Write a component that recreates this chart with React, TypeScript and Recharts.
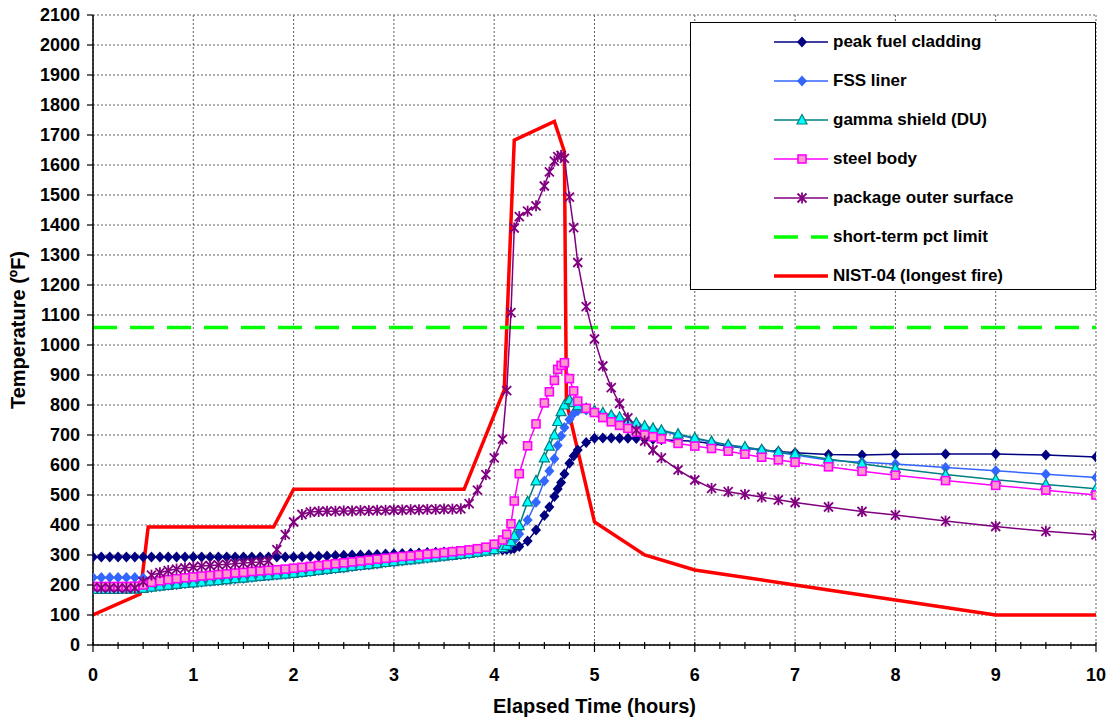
import React from 'react';
import { LineChart, Line, XAxis, YAxis, CartesianGrid, Legend, Label } from 'recharts';

const FONT = '"Liberation Sans", Arial, Helvetica, sans-serif';

// elapsed time (hours) shared by the five computed temperature series
const hours = [
  0, 0.083, 0.167, 0.25, 0.333, 0.417, 0.5, 0.583, 0.667, 0.75, 0.833, 0.917,
  1, 1.083, 1.167, 1.25, 1.333, 1.417, 1.5, 1.583, 1.667, 1.75, 1.833, 1.917,
  2, 2.083, 2.167, 2.25, 2.333, 2.417, 2.5, 2.583, 2.667, 2.75, 2.833, 2.917,
  3, 3.083, 3.167, 3.25, 3.333, 3.417, 3.5, 3.583, 3.667, 3.75, 3.833, 3.917,
  4, 4.083, 4.125, 4.167, 4.2, 4.25, 4.333, 4.417, 4.5, 4.55, 4.6, 4.633,
  4.667, 4.7, 4.75, 4.792, 4.833, 4.917, 5, 5.083, 5.167, 5.25, 5.333, 5.417,
  5.5, 5.583, 5.667, 5.833, 6, 6.167, 6.333, 6.5, 6.667, 6.833, 7, 7.333,
  7.667, 8, 8.5, 9, 9.5, 10,
];

const claddingTemp = [
  293, 293, 293, 293, 293, 293, 293, 293, 293, 293, 293, 293,
  293, 293, 293, 293, 293, 293, 293, 293, 293, 293, 293, 293,
  293, 294, 295, 296, 297, 298, 299, 300, 300, 301, 302, 303,
  304, 305, 306, 307, 308, 309, 310, 311, 312, 313, 314, 315,
  316, 317, 318, 320, 322, 328, 347, 383, 432, 460, 495, 520,
  542, 570, 606, 630, 650, 675, 689, 690, 690, 689, 689, 688,
  687, 686, 684, 682, 679, 671, 663, 656, 650, 645, 641, 635,
  633, 636, 637, 637, 633, 627,
];

const linerTemp = [
  225, 225, 225, 225, 225, 225, 223, 192, 195, 198, 201, 204,
  206, 209, 212, 214, 217, 220, 222, 225, 228, 230, 233, 235,
  238, 241, 244, 248, 251, 254, 257, 261, 264, 267, 270, 274,
  277, 280, 283, 286, 289, 292, 295, 298, 301, 304, 308, 312,
  317, 323, 328, 338, 350, 370, 417, 476, 547, 580, 621, 665,
  697, 725, 752, 772, 781, 783, 778, 770, 763, 755, 745, 737,
  727, 719, 713, 700, 688, 676, 665, 657, 649, 642, 633, 616,
  609, 603, 592, 581, 569, 558,
];

const gammaTemp = [
  185, 185, 185, 185, 186, 186, 189, 193, 196, 199, 202, 205,
  207, 210, 213, 215, 218, 221, 223, 226, 229, 231, 234, 236,
  239, 242, 245, 249, 252, 255, 258, 262, 265, 268, 271, 275,
  278, 281, 284, 287, 290, 293, 296, 299, 302, 305, 309, 313,
  318, 325, 332, 345, 365, 398, 477, 547, 624, 663, 700, 745,
  778, 800, 818, 808, 798, 788, 781, 774, 766, 759, 748, 740,
  730, 722, 716, 703, 690, 678, 667, 660, 651, 644, 637, 620,
  604, 588, 568, 551, 535, 521,
];

const steelTemp = [
  195, 195, 195, 195, 195, 196, 200, 209, 214, 218, 221, 224,
  227, 230, 232, 235, 237, 240, 242, 245, 247, 249, 251, 253,
  256, 259, 262, 265, 268, 271, 274, 277, 280, 283, 286, 289,
  292, 295, 297, 300, 303, 305, 308, 311, 314, 317, 321, 326,
  336, 350, 369, 404, 480, 571, 664, 737, 807, 844, 882, 919,
  932, 941, 888, 847, 813, 789, 775, 758, 744, 732, 722, 710,
  700, 694, 687, 672, 663, 655, 646, 636, 626, 617, 609, 594,
  579, 566, 548, 532, 516, 500,
];

const surfaceTemp = [
  192, 190, 190, 189, 189, 190, 211, 233, 241, 248, 253, 257,
  260, 263, 265, 267, 269, 271, 273, 275, 277, 280, 318, 368,
  410, 435, 443, 445, 446, 446, 447, 447, 448, 448, 449, 449,
  450, 450, 451, 451, 452, 452, 453, 453, 454, 471, 516, 568,
  624, 686, 848, 1108, 1390, 1428, 1446, 1464, 1530, 1577, 1613, 1628,
  1632, 1622, 1493, 1391, 1275, 1128, 1020, 930, 858, 805, 757, 716,
  680, 650, 624, 584, 550, 522, 511, 502, 493, 484, 475, 460,
  445, 433, 413, 395, 379, 367,
];

// NIST-04 fire curve
const fireHours = [0, 0.47, 0.55, 1.8, 2.0, 3.7, 4.1, 4.2, 4.6, 4.7, 4.72, 5, 5.5, 6, 7, 8, 9, 10];
const fireTemp = [100, 170, 393, 393, 519, 519, 850, 1683, 1745, 1644, 810, 410, 300, 250, 200, 150, 100, 100];

// short-term peak cladding temperature limit
const limitHours = [0, 10];
const limitTemp = [1058, 1058];

const xTicks = [
  0, 0.25, 0.5, 0.75, 1, 1.25, 1.5, 1.75, 2, 2.25, 2.5, 2.75, 3, 3.25, 3.5, 3.75, 4, 4.25, 4.5, 4.75,
  5, 5.25, 5.5, 5.75, 6, 6.25, 6.5, 6.75, 7, 7.25, 7.5, 7.75, 8, 8.25, 8.5, 8.75, 9, 9.25, 9.5, 9.75, 10,
];
const xGrid = [0, 1, 2, 3, 4, 5, 6, 7, 8, 9, 10];
const yTicks = [
  0, 100, 200, 300, 400, 500, 600, 700, 800, 900, 1000, 1100, 1200, 1300, 1400, 1500, 1600, 1700, 1800, 1900, 2000, 2100,
];

const pts = (ts: number[], vs: number[]) => ts.map((t, i) => ({ t, v: vs[i] }));

type Kind = 'navy' | 'blue' | 'tri' | 'sq' | 'star';

const Marker = ({ kind, cx, cy }: { kind: Kind; cx: number; cy: number }) => {
  if (cx == null || cy == null) return null;
  if (kind === 'navy' || kind === 'blue') {
    return <path d={`M${cx},${cy - 5.5}L${cx + 5},${cy}L${cx},${cy + 5.5}L${cx - 5},${cy}Z`} fill={kind === 'navy' ? '#000080' : '#3366FF'} />;
  }
  if (kind === 'tri') {
    return <path d={`M${cx},${cy - 5.5}L${cx + 5},${cy + 4}L${cx - 5},${cy + 4}Z`} fill="#00FFFF" stroke="#008080" strokeWidth={1.2} />;
  }
  if (kind === 'sq') {
    return <rect x={cx - 4} y={cy - 4} width={8} height={8} fill="#FF99CC" stroke="#FF00FF" strokeWidth={1.6} />;
  }
  return (
    <g stroke="#800080" strokeWidth={1.8}>
      <line x1={cx - 4.5} y1={cy - 4.5} x2={cx + 4.5} y2={cy + 4.5} />
      <line x1={cx - 4.5} y1={cy + 4.5} x2={cx + 4.5} y2={cy - 4.5} />
      <line x1={cx} y1={cy - 5.5} x2={cx} y2={cy + 5.5} />
    </g>
  );
};

const dotFor = (kind: Kind) => (p: any) => <Marker key={`${kind}-${p.index}`} kind={kind} cx={p.cx} cy={p.cy} />;

const SERIES: { name: string; color: string; kind?: Kind; width: number; dash?: string }[] = [
  { name: 'peak fuel cladding', color: '#000080', kind: 'navy', width: 1.5 },
  { name: 'FSS liner', color: '#3366FF', kind: 'blue', width: 1.5 },
  { name: 'gamma shield (DU)', color: '#008080', kind: 'tri', width: 1.5 },
  { name: 'steel body', color: '#FF00FF', kind: 'sq', width: 1.5 },
  { name: 'package outer surface', color: '#800080', kind: 'star', width: 1.5 },
  { name: 'short-term pct limit', color: '#00FF00', width: 3.5, dash: '24 13' },
  { name: 'NIST-04 (longest fire)', color: '#FF0000', width: 3.5 },
];

const LegendBox = () => (
  <div style={{ width: 406, height: 268, border: '1px solid #000', background: '#fff', boxSizing: 'border-box', position: 'relative', fontFamily: FONT }}>
    {SERIES.map((s, i) => (
      <div key={s.name} style={{ position: 'absolute', left: 0, top: 9 + i * 39, height: 20, display: 'flex', alignItems: 'center' }}>
        <svg width={140} height={20}>
          <line x1={83} x2={137} y1={10} y2={10} stroke={s.color} strokeWidth={s.width} strokeDasharray={s.dash} />
          {s.kind && <Marker kind={s.kind} cx={111} cy={10} />}
        </svg>
        <span style={{ fontSize: 17, fontWeight: 700, marginLeft: 2, color: '#000', whiteSpace: 'nowrap' }}>{s.name}</span>
      </div>
    ))}
  </div>
);

const XTick = ({ x, y, payload }: any) => {
  const v = payload.value;
  const major = Math.abs(v - Math.round(v)) < 1e-6;
  return (
    <g>
      <line x1={x} x2={x} y1={y - 3} y2={y + (major ? 7 : 4)} stroke="#000" strokeWidth={1.2} />
      {major && (
        <text x={x} y={y + 36} textAnchor="middle" fontSize={18} fontWeight={700} fontFamily={FONT} fill="#000">{v}</text>
      )}
    </g>
  );
};

const YTick = ({ x, y, payload }: any) => (
  <g>
    <line x1={x - 6} x2={x} y1={y} y2={y} stroke="#000" strokeWidth={1.2} />
    <text x={x - 13} y={y} dy="0.35em" textAnchor="end" fontSize={18} fontWeight={700} fontFamily={FONT} fill="#000">{payload.value}</text>
  </g>
);

export default function App() {
  return (
    <div style={{ position: 'absolute', left: 0, top: 0, width: 1108, height: 721, background: '#fff' }}>
      <LineChart width={1108} height={721} margin={{ top: 15, right: 12, left: 10, bottom: 6 }}>
        <CartesianGrid stroke="#606060" strokeDasharray="2 2" verticalValues={xGrid} />
        <XAxis
          type="number" dataKey="t" domain={[0, 10]} ticks={xTicks} interval={0} height={70}
          tickSize={0} tickMargin={0} tickLine={false} tick={<XTick />}
          axisLine={{ stroke: '#000', strokeWidth: 1.5 }} allowDataOverflow
        >
          <Label content={(p: any) => (
            <text x={p.viewBox.x + p.viewBox.width / 2} y={p.viewBox.y + 68} textAnchor="middle" fontSize={20} fontWeight={700} fontFamily={FONT} fill="#000">Elapsed Time (hours)</text>
          )} />
        </XAxis>
        <YAxis
          type="number" domain={[0, 2100]} ticks={yTicks} interval={0} width={83}
          tickSize={0} tickMargin={0} tickLine={false} tick={<YTick />}
          axisLine={{ stroke: '#000', strokeWidth: 1.5 }} allowDataOverflow
        >
          <Label content={(p: any) => {
            const cx = p.viewBox.x + 14.5;
            const cy = p.viewBox.y + p.viewBox.height / 2;
            return (
              <text x={cx} y={cy} transform={`rotate(-90 ${cx} ${cy})`} textAnchor="middle" fontSize={20} fontWeight={700} fontFamily={FONT} fill="#000">Temperature (ºF)</text>
            );
          }} />
        </YAxis>
        <Legend layout="vertical" align="center" verticalAlign="middle" wrapperStyle={{ left: 690, top: 22, width: 406, height: 268 }} content={() => <LegendBox />} />
        <Line data={pts(fireHours, fireTemp)} dataKey="v" name="NIST-04 (longest fire)" type="linear" stroke="#FF0000" strokeWidth={3.5} dot={false} activeDot={false} isAnimationActive={false} />
        <Line data={pts(limitHours, limitTemp)} dataKey="v" name="short-term pct limit" type="linear" stroke="#00FF00" strokeWidth={3.5} strokeDasharray="24 13" dot={false} activeDot={false} isAnimationActive={false} />
        <Line data={pts(hours, claddingTemp)} dataKey="v" name="peak fuel cladding" type="linear" stroke="#000080" strokeWidth={1.5} dot={dotFor('navy')} activeDot={false} isAnimationActive={false} />
        <Line data={pts(hours, linerTemp)} dataKey="v" name="FSS liner" type="linear" stroke="#3366FF" strokeWidth={1.5} dot={dotFor('blue')} activeDot={false} isAnimationActive={false} />
        <Line data={pts(hours, gammaTemp)} dataKey="v" name="gamma shield (DU)" type="linear" stroke="#008080" strokeWidth={1.5} dot={dotFor('tri')} activeDot={false} isAnimationActive={false} />
        <Line data={pts(hours, steelTemp)} dataKey="v" name="steel body" type="linear" stroke="#FF00FF" strokeWidth={1.5} dot={dotFor('sq')} activeDot={false} isAnimationActive={false} />
        <Line data={pts(hours, surfaceTemp)} dataKey="v" name="package outer surface" type="linear" stroke="#800080" strokeWidth={1.5} dot={dotFor('star')} activeDot={false} isAnimationActive={false} />
      </LineChart>
    </div>
  );
}
